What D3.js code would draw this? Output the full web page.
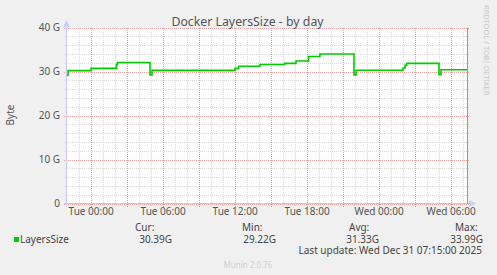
<!DOCTYPE html>
<html>
<head>
<meta charset="utf-8">
<script src="https://cdn.jsdelivr.net/npm/d3@7"></script>
<style>
  body { margin: 0; background: #f0f0f0; }
  text { font-family: "Noto Sans", sans-serif; }
</style>
</head>
<body>
<svg width="497" height="275"></svg>
<script>
// sample times (when the value changes) and LayersSize values in G
var times = [
    "2025-12-29 22:02", "2025-12-29 22:07", "2025-12-30 00:02", "2025-12-30 02:09",
    "2025-12-30 02:14", "2025-12-30 04:57", "2025-12-30 05:07", "2025-12-30 12:02",
    "2025-12-30 12:20", "2025-12-30 14:07", "2025-12-30 16:10", "2025-12-30 17:07",
    "2025-12-30 18:10", "2025-12-30 19:07", "2025-12-30 21:57", "2025-12-30 22:07",
    "2025-12-31 02:02", "2025-12-31 02:12", "2025-12-31 02:20", "2025-12-31 05:02",
    "2025-12-31 05:12", "2025-12-31 07:22"
];
var layersSize = [
    29.1, 30.2, 30.7, 31.6,
    32.05, 29.22, 30.25, 30.7,
    31.2, 31.6, 31.85, 32.4,
    33.4, 33.99, 29.22, 30.27,
    30.8, 31.4, 31.85, 29.3,
    30.39, 30.39
];
var yTicks = [0, 10, 20, 30, 40];
var yTickLabels = ["0", "10 G", "20 G", "30 G", "40 G"];
var legendHeads = ["Cur:", "Min:", "Avg:", "Max:"];
var legendValues = ["30.39G", "29.22G", "31.33G", "33.99G"];

var parse = d3.timeParse("%Y-%m-%d %H:%M");
var data = times.map(function(t, i) { return {t: parse(t), v: layersSize[i]}; });

var svg = d3.select("svg");
svg.append("rect").attr("width", 497).attr("height", 275).style("fill", "#f0f0f0");

var x = d3.scaleTime()
    .domain([parse("2025-12-29 22:02"), parse("2025-12-31 07:22")])
    .range([67, 467]);
var y = d3.scaleLinear().domain([0, 40]).range([203.5, 27.5]);

svg.append("rect")
    .attr("x", 67).attr("y", 28).attr("width", 400).attr("height", 175)
    .style("fill", "#ffffff");

// minor grid
var minorY = d3.range(2, 40, 2).filter(function(d) { return d % 10 != 0; });
svg.append("g").selectAll("line")
    .data(minorY).enter().append("line")
    .attr("x1", 64).attr("x2", 470)
    .attr("y1", function(d) { return Math.round(y(d)) + 0.5; })
    .attr("y2", function(d) { return Math.round(y(d)) + 0.5; })
    .style("stroke", "#d8d8d8").style("stroke-dasharray", "1,1");

var hours = x.ticks(d3.timeHour.every(1)).filter(function(d) { return d.getHours() % 3 != 0; });
svg.append("g").selectAll("line")
    .data(hours).enter().append("line")
    .attr("x1", function(d) { return Math.round(x(d)) + 0.5; })
    .attr("x2", function(d) { return Math.round(x(d)) + 0.5; })
    .attr("y1", 28).attr("y2", 205)
    .style("stroke", "#d8d8d8").style("stroke-dasharray", "1,1");

// major grid
svg.append("g").selectAll("line")
    .data(yTicks).enter().append("line")
    .attr("x1", 64).attr("x2", 470)
    .attr("y1", function(d) { return Math.round(y(d)) + 0.5; })
    .attr("y2", function(d) { return Math.round(y(d)) + 0.5; })
    .style("stroke", "#eba0a0").style("stroke-dasharray", "1,1");

var threeH = x.ticks(d3.timeHour.every(3));
svg.append("g").selectAll("line")
    .data(threeH).enter().append("line")
    .attr("x1", function(d) { return Math.round(x(d)) + 0.5; })
    .attr("x2", function(d) { return Math.round(x(d)) + 0.5; })
    .attr("y1", 28).attr("y2", 207)
    .style("stroke", "#eba0a0").style("stroke-dasharray", "1,1");

// axes lines and arrows
svg.append("line").attr("x1", 64).attr("x2", 470).attr("y1", 203.5).attr("y2", 203.5)
    .style("stroke", "#c8c8f0");
svg.append("line").attr("x1", 66.5).attr("x2", 66.5).attr("y1", 206).attr("y2", 24)
    .style("stroke", "#c8c8f0");
svg.append("path").attr("d", "M63,27 L66.5,20 L70,27 Z").style("fill", "#c8d0f8");
svg.append("path").attr("d", "M469,200 L476,203.5 L469,207 Z").style("fill", "#c8d0f8");
svg.append("line").attr("x1", 467.5).attr("x2", 467.5).attr("y1", 28).attr("y2", 204)
    .style("stroke", "#999999");

// tick labels via axes
var yAxis = svg.append("g")
    .attr("transform", "translate(60,0)")
    .call(d3.axisLeft(y).tickValues(yTicks).tickSize(0).tickPadding(0)
        .tickFormat(function(d, i) { return yTickLabels[i]; }));
yAxis.select(".domain").remove();
yAxis.selectAll("text").style("font-size", "10px").style("fill", "#555555")
    .style("font-family", "Noto Sans, sans-serif");

var xAxis = svg.append("g")
    .attr("transform", "translate(0,204)")
    .call(d3.axisBottom(x).ticks(d3.timeHour.every(6)).tickSize(0).tickPadding(4)
        .tickFormat(d3.timeFormat("%a %H:%M")));
xAxis.select(".domain").remove();
xAxis.selectAll("text").style("font-size", "10px").style("fill", "#555555")
    .style("font-family", "Noto Sans, sans-serif");

// data line
var line = d3.line()
    .x(function(d) { return x(d.t); })
    .y(function(d) { return y(d.v); })
    .curve(d3.curveStepAfter);
svg.append("path")
    .datum(data)
    .attr("d", line)
    .style("fill", "none")
    .style("stroke", "#00cc00")
    .style("stroke-width", 1.6);

// titles
svg.append("text").attr("x", 247.5).attr("y", 26).attr("text-anchor", "middle")
    .style("font-size", "12.3px").style("fill", "#555555")
    .text("Docker LayersSize - by day");
svg.append("text").attr("transform", "translate(14,115) rotate(-90)")
    .attr("text-anchor", "middle")
    .style("font-size", "10px").style("fill", "#555555")
    .text("Byte");
svg.append("text").attr("transform", "translate(484,5) rotate(90)")
    .style("font-size", "7.5px").style("fill", "#c8c8c8")
    .text("RRDTOOL / TOBI OETIKER");

// legend
svg.append("rect").attr("x", 14).attr("y", 237).attr("width", 5).attr("height", 5)
    .style("fill", "#00cc00");
svg.append("text").attr("x", 20).attr("y", 243)
    .style("font-size", "10px").style("fill", "#444444")
    .text("LayersSize");

var headX = [135, 242, 349, 455];
var valX = [172, 276, 379, 483];
svg.append("g").selectAll("text")
    .data(legendHeads).enter().append("text")
    .attr("x", function(d, i) { return headX[i]; })
    .attr("y", 231)
    .style("font-size", "10px").style("fill", "#444444")
    .text(function(d) { return d; });
svg.append("g").selectAll("text")
    .data(legendValues).enter().append("text")
    .attr("x", function(d, i) { return valX[i]; })
    .attr("y", 243).attr("text-anchor", "end")
    .style("font-size", "10px").style("fill", "#444444")
    .text(function(d) { return d; });
svg.append("text").attr("x", 482).attr("y", 254).attr("text-anchor", "end")
    .style("font-size", "10px").style("fill", "#444444")
    .text("Last update: Wed Dec 31 07:15:00 2025");
svg.append("text").attr("x", 248).attr("y", 268).attr("text-anchor", "middle")
    .style("font-size", "8px").style("fill", "#d0d0d0")
    .text("Munin 2.0.76");
</script>
</body>
</html>
